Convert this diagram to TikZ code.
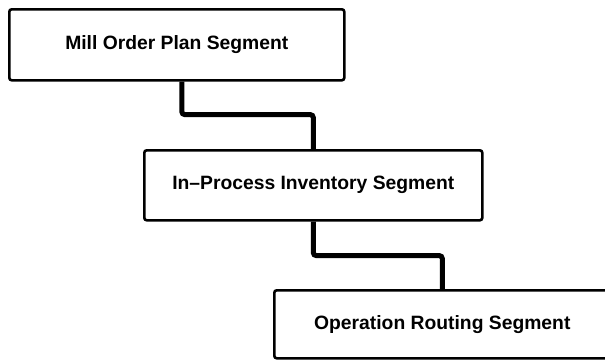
\documentclass[tikz,border=0pt]{standalone}
\usepackage{fontspec}
\setmainfont{Liberation Sans}
\begin{document}
\begin{tikzpicture}[x=1pt,y=-1pt,
  segbox/.style={draw=black, line width=2.6pt, rounded corners=2.5pt,
    rectangle, anchor=north west, inner sep=0pt,
    font=\fontsize{19.3}{22}\selectfont\bfseries},
  link/.style={draw=black, line width=5pt, rounded corners=3pt}]
  \useasboundingbox[fill=white] (0,0) rectangle (605,362);

  % the three segments of the hierarchy
  \node[segbox, minimum width=335pt, minimum height=71pt] (mill) at (8,8)
    {Mill Order Plan Segment};
  \node[segbox, minimum width=338pt, minimum height=70pt] (inproc) at (143,149)
    {In--Process Inventory Segment};
  \node[segbox, minimum width=336pt, minimum height=68pt] (oper) at (273,289)
    {Operation Routing Segment};

  % parent-child links
  \draw[link] ([xshift=5pt]mill.south) -- ++(0,33) -| (inproc.north);
  \draw[link] (inproc.south) -- ++(0,34) -| (oper.north);
\end{tikzpicture}
\end{document}
